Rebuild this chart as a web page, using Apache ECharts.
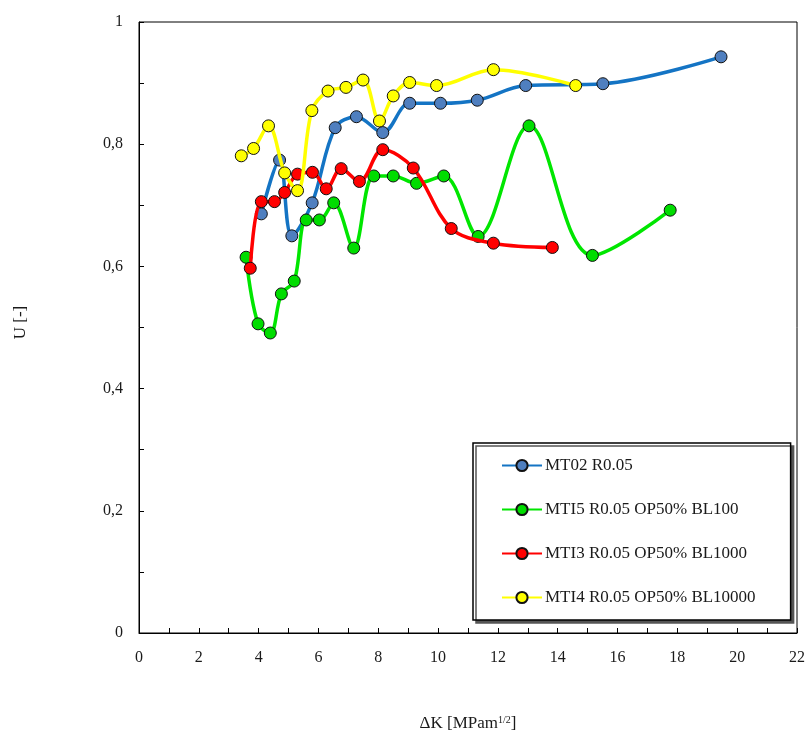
<!DOCTYPE html>
<html>
<head>
<meta charset="utf-8">
<script src="https://cdn.jsdelivr.net/npm/echarts@6/dist/echarts.min.js"></script>
<style>
html,body{margin:0;padding:0;background:#fff;}
#chart{width:806px;height:735px;}
</style>
</head>
<body>
<div id="chart"></div>
<script>
// Series names
const seriesNames = ['MT02 R0.05', 'MTI5 R0.05 OP50% BL100', 'MTI3 R0.05 OP50% BL1000', 'MTI4 R0.05 OP50% BL10000'];

// MT02 R0.05
const mt02X = [4.09, 4.70, 5.11, 5.79, 6.56, 7.27, 8.15, 9.05, 10.08, 11.31, 12.93, 15.51, 19.46];
const mt02Y = [0.686, 0.774, 0.650, 0.704, 0.827, 0.845, 0.819, 0.867, 0.867, 0.872, 0.896, 0.899, 0.943];

// MT15 R0.05 OP50% BL100
const mt15X = [3.58, 3.98, 4.39, 4.76, 5.19, 5.59, 6.03, 6.51, 7.18, 7.85, 8.50, 9.28, 10.19, 11.34, 13.04, 15.16, 17.76];
const mt15Y = [0.615, 0.506, 0.491, 0.555, 0.576, 0.676, 0.676, 0.704, 0.630, 0.748, 0.748, 0.736, 0.748, 0.649, 0.830, 0.618, 0.692];

// MT13 R0.05 OP50% BL1000
const mt13X = [3.72, 4.09, 4.53, 4.87, 5.30, 5.80, 6.26, 6.76, 7.37, 8.15, 9.17, 10.44, 11.85, 13.82];
const mt13Y = [0.597, 0.706, 0.706, 0.721, 0.751, 0.754, 0.727, 0.760, 0.739, 0.791, 0.761, 0.662, 0.638, 0.631];

// MT14 R0.05 OP50% BL10000
const mt14X = [3.42, 3.83, 4.33, 4.87, 5.30, 5.78, 6.32, 6.92, 7.49, 8.04, 8.50, 9.05, 9.95, 11.85, 14.60];
const mt14Y = [0.781, 0.793, 0.830, 0.753, 0.724, 0.855, 0.887, 0.893, 0.905, 0.838, 0.879, 0.901, 0.896, 0.922, 0.896];

// Axis settings
const xMin = 0, xMax = 22, xStep = 2;
const yMin = 0, yMax = 1, yStep = 0.2;

const FONT = "'Liberation Serif', 'Times New Roman', serif";
const TXT = '#1a1a1a';

function pairs(xs, ys) { return xs.map((x, i) => [x, ys[i]]); }

const styles = [
  { line: '#1474c4', fill: '#4f7fbf' },
  { line: '#00e600', fill: '#00dd00' },
  { line: '#ff0000', fill: '#ff0000' },
  { line: '#ffff00', fill: '#ffff00' }
];
const datasets = [pairs(mt02X, mt02Y), pairs(mt15X, mt15Y), pairs(mt13X, mt13Y), pairs(mt14X, mt14Y)];

const chart = echarts.init(document.getElementById('chart'), null, { renderer: 'canvas' });
chart.setOption({
  animation: false,
  backgroundColor: '#fff',
  grid: { left: 139, top: 22, right: 9, bottom: 102, show: true, borderColor: '#000', borderWidth: 1, backgroundColor: 'transparent', outerBoundsMode: 'none', containLabel: false },
  legend: {
    orient: 'vertical',
    left: 473, top: 443,
    padding: [14, 35, 14, 28],
    itemGap: 27,
    itemWidth: 40,
    itemHeight: 14,
    borderColor: '#000', borderWidth: 1.5,
    backgroundColor: '#fff',
    shadowColor: '#555', shadowOffsetX: 3, shadowOffsetY: 3, shadowBlur: 0,
    textStyle: { fontFamily: FONT, fontSize: 17, color: TXT, padding: [0, 0, 0, -2] },
    data: seriesNames
  },
  xAxis: {
    type: 'value', min: xMin, max: xMax, interval: xStep,
    name: '{a|ΔK [MPam}{s|1/2}{a|]}',
    nameLocation: 'middle', nameGap: 82,
    nameTextStyle: {
      rich: {
        a: { fontFamily: FONT, fontSize: 17, color: TXT },
        s: { fontFamily: FONT, fontSize: 10, color: TXT, verticalAlign: 'top', padding: [0, 0, 8, 0] }
      }
    },
    axisLine: { show: true, lineStyle: { color: '#000', width: 1 } },
    axisTick: { show: true, inside: true, length: 5, lineStyle: { color: '#000' } },
    minorTick: { show: true, splitNumber: 2, length: 5, lineStyle: { color: '#000' } },
    splitLine: { show: false },
    axisLabel: { fontFamily: FONT, fontSize: 16, color: TXT, margin: 17 }
  },
  yAxis: {
    type: 'value', min: yMin, max: yMax, interval: yStep,
    name: 'U [-]',
    nameLocation: 'middle', nameGap: 110,
    nameTextStyle: { fontFamily: FONT, fontSize: 17, color: TXT, padding: [0, 0, 0, 10] },
    axisLine: { show: true, lineStyle: { color: '#000', width: 1 } },
    axisTick: { show: true, inside: true, length: 5, lineStyle: { color: '#000' } },
    minorTick: { show: true, splitNumber: 2, length: 5, lineStyle: { color: '#000' } },
    splitLine: { show: false },
    axisLabel: {
      fontFamily: FONT, fontSize: 16, color: TXT, margin: 16,
      formatter: v => String(Math.round(v * 10) / 10).replace('.', ',')
    }
  },
  series: seriesNames.map((name, i) => ({
    name: name,
    type: 'line',
    data: datasets[i],
    smooth: 0.35,
    symbol: 'circle',
    symbolSize: 12,
    lineStyle: { color: styles[i].line, width: 3.5 },
    itemStyle: { color: styles[i].fill, borderColor: '#111', borderWidth: 1 },
    z: 2 + i
  }))
});
</script>
</body>
</html>
